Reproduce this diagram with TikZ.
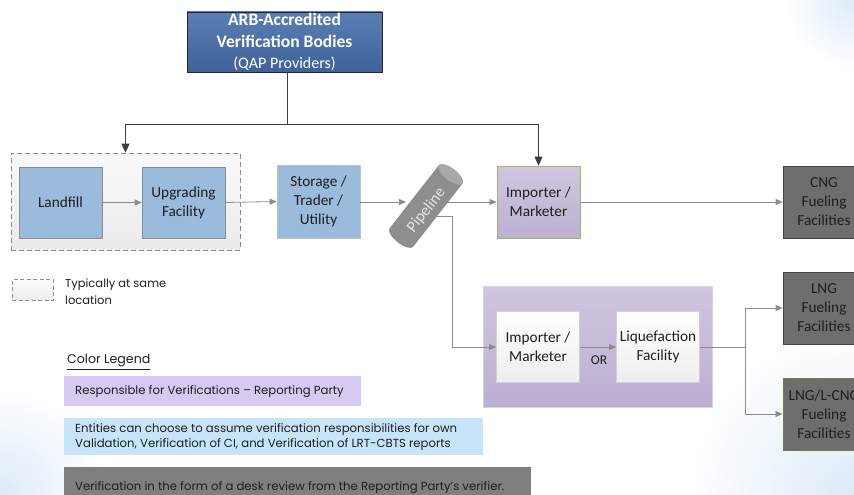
\documentclass[tikz,border=0pt]{standalone}
\usepackage{fontspec}
\setmainfont{Carlito}
\newfontfamily\legfont{Poppins}
\usetikzlibrary{arrows.meta}
\definecolor{arbtop}{HTML}{5A7EB5}
\definecolor{arbbot}{HTML}{3F6398}
\definecolor{boxblue}{HTML}{9BBBDC}
\definecolor{bluebd}{HTML}{8C8C8C}
\definecolor{purtop}{HTML}{D0C6E0}
\definecolor{purbot}{HTML}{BCAFD2}
\definecolor{greenbd}{HTML}{9BBB59}
\definecolor{darkbox}{HTML}{6E6E6E}
\definecolor{darkbd}{HTML}{444444}
\definecolor{flowgray}{HTML}{8C8C8C}
\definecolor{arbline}{HTML}{3C3C3C}
\definecolor{txt}{HTML}{1E1E1E}
\definecolor{legpur}{HTML}{D6CAF3}
\definecolor{legblue}{HTML}{C6E5F8}
\definecolor{leggray}{HTML}{7F7F7F}
\definecolor{bgblue}{HTML}{DCEBF8}
\definecolor{pipefill}{HTML}{8E8E8E}
\definecolor{pipecap}{HTML}{A8A8A8}
\begin{document}
\begin{tikzpicture}[x=1pt,y=-1pt,
  boxfont/.style={font=\fontsize{15.3}{19}\selectfont},
  base/.style={rectangle, align=center, inner sep=0pt, text=txt, boxfont, line width=0.6pt},
  bluebox/.style={base, draw=bluebd, fill=boxblue, minimum width=83pt, minimum height=71pt},
  purbox/.style={base, draw=greenbd, line width=0.8pt, top color=purtop, bottom color=purbot, minimum width=83pt, minimum height=72pt},
  darkbx/.style={base, draw=darkbd, fill=darkbox, minimum width=82pt, minimum height=72pt},
  whitebox/.style={base, draw=black!18, top color=white, bottom color=black!7, minimum width=83pt, minimum height=71pt},
  flow/.style={draw=flowgray, line width=0.8pt},
  flowarr/.style={flow, -{Triangle[length=7pt,width=6pt]}},
  arbarr/.style={draw=arbline, line width=0.8pt, -{Triangle[length=9pt,width=8pt]}},
  legtext/.style={font=\legfont\fontsize{11.7}{15}\selectfont, text=txt, inner sep=0pt, anchor=west, align=left},
  legbar/.style={rectangle, anchor=north west, inner sep=0pt},
  dashgrp/.style={rectangle, draw=black!45, dash pattern=on 5pt off 3pt, line width=0.7pt}
]
\useasboundingbox (0,0) rectangle (854,495);
\clip (0,0) rectangle (854,495);
% background tint
\shade[inner color=bgblue, outer color=white] (854,495) circle (170);
\shade[inner color=bgblue, outer color=white] (0,495) circle (110);
\shade[inner color=bgblue, outer color=white] (854,0) circle (70);

% top node
\node[base, draw=black!85, top color=arbtop, bottom color=arbbot, text=white,
      minimum width=195pt, minimum height=60pt, font=\fontsize{17.5}{21.5}\selectfont] (arb) at (284.5,42)
  {\textbf{ARB-Accredited}\\\textbf{Verification Bodies}\\{\fontsize{16}{21.5}\selectfont(QAP Providers)}};

% dashed grouping
\node[dashgrp, top color=black!2, bottom color=black!8,
      minimum width=229pt, minimum height=97pt] (grp) at (125.5,201.5) {};

\node[bluebox] (landfill) at (60.5,202.5) {Landfill};
\node[bluebox] (upgrade) at (183.5,202.5) {Upgrading\\Facility};
\node[bluebox, draw=boxblue!85!black!60, minimum height=73pt] (storage) at (318.5,201.5) {Storage /\\Trader /\\Utility};
\node[purbox] (imp1) at (538.5,202) {Importer /\\Marketer};
\node[darkbx] (cng) at (824,202) {CNG\\Fueling\\Facilities};
\node[darkbx] (lng) at (824,308) {LNG\\Fueling\\Facilities};
\node[darkbx, draw=greenbd!70!black, line width=0.9pt] (lcng) at (824,414) {LNG/L-CNG\\Fueling\\Facilities};

% big purple group
\node[rectangle, draw=purtop!80!white, line width=0.6pt, top color=purtop, bottom color=purbot,
      minimum width=229pt, minimum height=121pt] (bigp) at (597.5,346.5) {};
\node[whitebox] (imp2) at (538,347) {Importer /\\Marketer};
\node[whitebox] (liq) at (658,347) {Liquefaction\\Facility};
\node[text=txt, font=\fontsize{13.5}{16}\selectfont] (or) at (599,360) {OR};

% pipeline cylinder
\begin{scope}[shift={(426,206)}, rotate=52]
  \fill[pipefill] (-40pt,15pt) -- (40pt,15pt) arc[start angle=90, end angle=-90, x radius=6pt, y radius=15pt]
     -- (-40pt,-15pt) arc[start angle=270, end angle=90, x radius=6pt, y radius=15pt] -- cycle;
  \fill[pipecap] (40pt,0pt) ellipse[x radius=6pt, y radius=15pt];
  \node[transform shape, text=white!90!black, inner sep=0pt, font=\fontsize{16}{18}\selectfont] (pipe) at (-3pt,-3pt) {Pipeline};
\end{scope}
\coordinate (pipeIn) at (406,202);
\coordinate (pipeOut) at (445,202);
\coordinate (pipeLow) at (437,216);
\coordinate (drop) at (452,216);

% ARB connectors
\coordinate (j1) at (287,124);
\draw[draw=arbline, line width=0.8pt] (287,72) -- (j1);
\draw[arbarr] (j1) -| (grp.north);
\draw[arbarr] (j1) -| (imp1.north);

% flow connectors
\draw[flowarr] (landfill.east) -- (upgrade.west);
\draw[flowarr] (upgrade.east) -- (storage.west);
\draw[flowarr] (storage.east |- pipeIn) -- (pipeIn);
\draw[flowarr] (pipeOut) -- (imp1.west |- pipeOut);
\draw[flowarr] (imp1.east) -- (cng.west);
\draw[flow] (pipeLow) -- (drop);
\draw[flowarr] (drop) |- (imp2.west);
\draw[flowarr] (imp2.east) -- (liq.west);
\coordinate (j2) at (745,347);
\draw[flow] (liq.east) -- (j2);
\draw[flowarr] (j2) |- (lng.west);
\draw[flowarr] (j2) |- (lcng.west);

% legend: dashed
\node[dashgrp, line width=0.6pt, dash pattern=on 4pt off 2.5pt, top color=black!1, bottom color=black!8,
      minimum width=41pt, minimum height=21pt, inner sep=0pt] (legdash) at (32.5,290) {};
\node[legtext, font=\legfont\fontsize{11.5}{17}\selectfont] (legdashtxt) at (65,292) {Typically at same\\location};

\node[legtext, font=\legfont\fontsize{12.6}{14}\selectfont] (legtitle) at (67,362) {\underline{Color Legend}};
\node[legbar, fill=legpur, minimum width=297pt, minimum height=30pt] (legp) at (64,376) {};
\node[legtext] (legptxt) at ([xshift=11pt]legp.west) {Responsible for Verifications – Reporting Party};
\node[legbar, fill=legblue, minimum width=419pt, minimum height=37pt] (legb) at (64,418) {};
\node[legtext] (legbtxt) at ([xshift=11pt]legb.west)
  {Entities can choose to assume verification responsibilities for own\\Validation, Verification of CI, and Verification of LRT-CBTS reports};
\node[legbar, fill=leggray, minimum width=467pt, minimum height=40pt] (legg) at (64,467) {};
\node[legtext] (leggtxt) at ([xshift=11pt]legg.west)
  {Verification in the form of a desk review from the Reporting Party’s verifier.};
\end{tikzpicture}
\end{document}
